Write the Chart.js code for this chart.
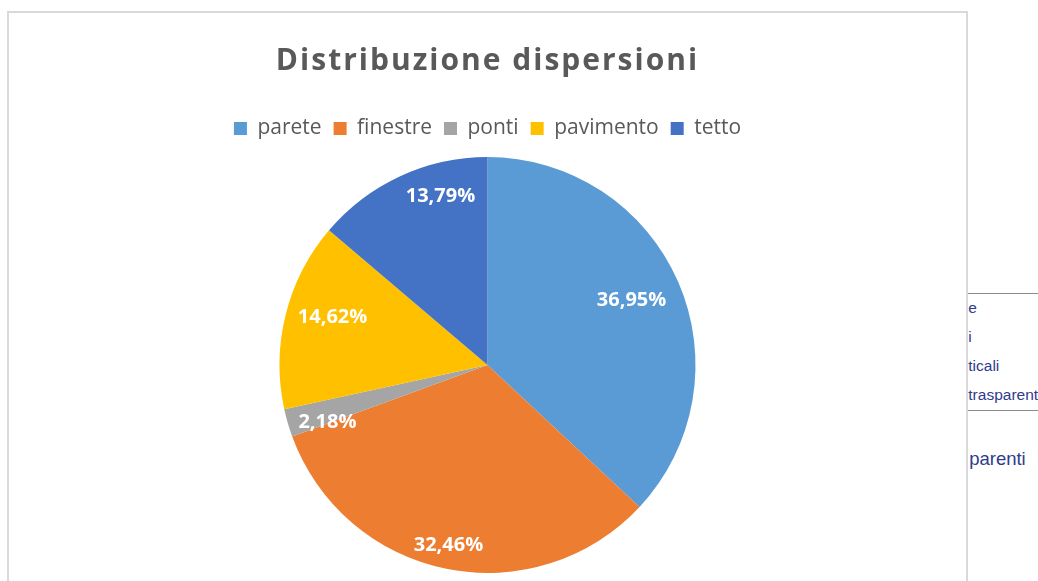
<!DOCTYPE html>
<html>
<head>
<meta charset="utf-8">
<script src="https://cdn.jsdelivr.net/npm/chart.js@4/dist/chart.umd.min.js"></script>
<style>
    html, body { margin: 0; padding: 0; background: #fff; overflow: hidden; width: 1038px; height: 581px; }
    #sheet { position: absolute; left: 0; top: 0; width: 1038px; height: 581px; font-family: "Liberation Sans", Arial, sans-serif; color: #2f3c8c; }
    .cell { position: absolute; left: 964px; font-size: 15.5px; white-space: nowrap; }
    .hline { position: absolute; left: 966px; width: 72px; height: 1px; background: #8c8c8c; }
    #box { position: absolute; left: 7px; top: 11px; width: 957px; height: 590px; border: 2px solid #d9d9d9; background: #fff; z-index: 2; }
    #wrap { position: relative; width: 957px; height: 570px; }
</style>
</head>
<body>
<div id="sheet">
    <div class="hline" style="top:293px"></div>
    <div class="cell" style="top:299px">&nbsp;e</div>
    <div class="cell" style="top:328px">&nbsp;i</div>
    <div class="cell" style="top:357px">&nbsp;ticali</div>
    <div class="cell" style="top:386px">&nbsp;trasparenti</div>
    <div class="hline" style="top:410px"></div>
    <div class="cell" style="top:448px; font-size:18.5px">&nbsp;parenti</div>
</div>
<div id="box">
    <div id="wrap"><canvas id="pieChart"></canvas></div>
</div>
<script>
// Distribuzione dispersioni
const categories = ['parete', 'finestre', 'ponti', 'pavimento', 'tetto'];
const shares = [36.95, 32.46, 2.18, 14.62, 13.79];
const sliceColors = ['#5b9bd5', '#ed7d31', '#a5a5a5', '#ffc000', '#4472c4'];

// label placement like Excel's best fit: fraction of radius, and a small turn in degrees
const labelRadius = [0.76, 0.885, 0.817, 0.78, 0.84];
const labelTurn = [-0.8, 0.8, -3.4, 3.2, 9.2];

const sliceLabels = {
    id: 'sliceLabels',
    afterDatasetsDraw(chart) {
        const ctx = chart.ctx;
        const meta = chart.getDatasetMeta(0);
        ctx.save();
        ctx.letterSpacing = '0px';
        ctx.fillStyle = '#ffffff';
        ctx.font = 'bold 20px "Open Sans", sans-serif';
        ctx.textAlign = 'center';
        ctx.textBaseline = 'middle';
        meta.data.forEach((arc, i) => {
            const p = arc.getProps(['x', 'y', 'startAngle', 'endAngle', 'outerRadius'], true);
            const mid = (p.startAngle + p.endAngle) / 2 + labelTurn[i] * Math.PI / 180;
            const r = p.outerRadius * labelRadius[i];
            const txt = shares[i].toFixed(2).replace('.', ',') + '%';
            ctx.fillText(txt, p.x + Math.cos(mid) * r, p.y + Math.sin(mid) * r);
        });
        ctx.restore();
    }
};

// wider title letters and a bit more room under the legend
const spacing = {
    id: 'spacing',
    beforeInit(chart) {
        const fit = chart.legend.fit;
        chart.legend.fit = function () {
            fit.bind(this)();
            this.height += 8;
        };
    },
    beforeDraw(chart) {
        const tb = chart.titleBlock;
        if (tb && !tb._spaced) {
            const draw = tb.draw;
            tb.draw = function () {
                this.ctx.letterSpacing = '2px';
                draw.apply(this, arguments);
                this.ctx.letterSpacing = '0px';
            };
            tb._spaced = true;
        }
    }
};

const ctx = document.getElementById('pieChart').getContext('2d');
new Chart(ctx, {
    type: 'pie',
    data: {
        labels: categories,
        datasets: [{
            data: shares,
            backgroundColor: sliceColors,
            borderWidth: 0
        }]
    },
    options: {
        responsive: true,
        maintainAspectRatio: false,
        animation: false,
        layout: { padding: { top: 0, bottom: 10 } },
        plugins: {
            title: {
                display: true,
                text: 'Distribuzione dispersioni',
                color: '#595959',
                font: { family: 'Open Sans', size: 30, weight: 'bold' },
                padding: { top: 30, bottom: 27 }
            },
            legend: {
                position: 'top',
                labels: {
                    color: '#595959',
                    font: { family: 'Open Sans', size: 21 },
                    boxWidth: 13,
                    boxHeight: 13,
                    padding: 12
                }
            },
            tooltip: { enabled: false }
        }
    },
    plugins: [spacing, sliceLabels]
});
</script>
</body>
</html>
